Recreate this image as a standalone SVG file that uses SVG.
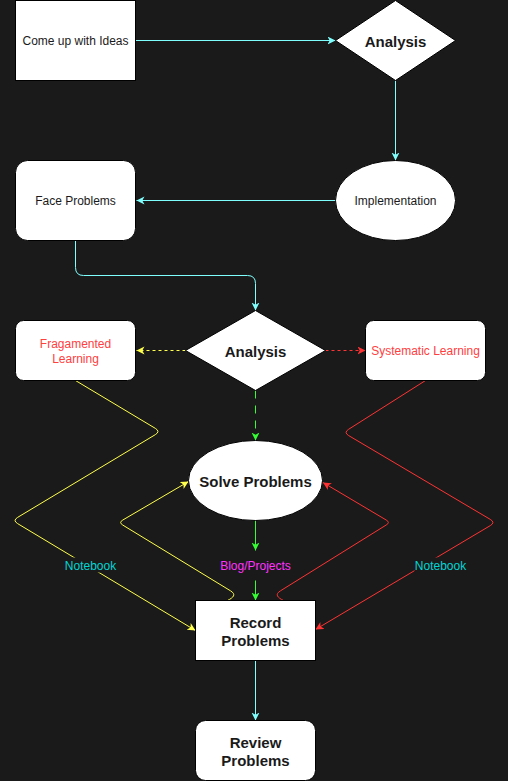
<svg xmlns="http://www.w3.org/2000/svg" width="508" height="781" viewBox="0 0 508 781">
<style>
.node{fill:#ffffff;stroke:#000000;stroke-width:1}
.t{font-family:"Liberation Sans",Arial,sans-serif;font-size:12px;fill:#1a1a1a;text-anchor:middle}
.b{font-family:"Liberation Sans",Arial,sans-serif;font-size:15px;font-weight:bold;fill:#1a1a1a;text-anchor:middle}
.red{fill:#ff4040}
.edge{fill:none;stroke-width:1}
.cy{stroke:#80ffff}
.ye{stroke:#ffff4d}
.rd{stroke:#ff3333}
.gr{stroke:#33ff33}
.lbl{font-family:"Liberation Sans",Arial,sans-serif;font-size:12px;text-anchor:middle}
</style>
<defs>
<marker id="aC" markerUnits="userSpaceOnUse" markerWidth="10" markerHeight="10" refX="8" refY="4" orient="auto"><path d="M0,0 L8,4 L0,8 L2.2,4 Z" fill="#80ffff"/></marker>
<marker id="aY" markerUnits="userSpaceOnUse" markerWidth="10" markerHeight="10" refX="8" refY="4" orient="auto"><path d="M0,0 L8,4 L0,8 L2.2,4 Z" fill="#ffff4d"/></marker>
<marker id="aR" markerUnits="userSpaceOnUse" markerWidth="10" markerHeight="10" refX="8" refY="4" orient="auto"><path d="M0,0 L8,4 L0,8 L2.2,4 Z" fill="#ff3333"/></marker>
<marker id="aG" markerUnits="userSpaceOnUse" markerWidth="10" markerHeight="10" refX="8" refY="4" orient="auto"><path d="M0,0 L8,4 L0,8 L2.2,4 Z" fill="#33ff33"/></marker>
</defs>
<rect x="0" y="0" width="508" height="781" fill="#1a1a1a"/>
<g transform="translate(0.5,0.5)">
<g id="connectors">
<path class="edge cy" d="M135,40 H335" marker-end="url(#aC)"/>
<path class="edge cy" d="M395,80 V160" marker-end="url(#aC)"/>
<path class="edge cy" d="M335,200 H136" marker-end="url(#aC)"/>
<path class="edge cy" d="M75,240 V267 Q75,275 83,275 H247 Q255,275 255,283 V310" marker-end="url(#aC)"/>
<path class="edge ye" d="M185,350 H136" stroke-dasharray="3 3" marker-end="url(#aY)"/>
<path class="edge rd" d="M325,350 H365" stroke-dasharray="3 3" marker-end="url(#aR)"/>
<path class="edge gr" d="M255,390 V440" stroke-dasharray="8 7" marker-end="url(#aG)"/>
<path class="edge gr" d="M255,520 V550" marker-end="url(#aG)"/>
<path class="edge gr" d="M255,580 V600" marker-end="url(#aG)"/>
<path class="edge ye" d="M75,380 L154.9,427.9 Q160,431 154.9,434.1 L17.1,516.9 Q12,520 17.1,523.1 L195,630" marker-end="url(#aY)"/>
<path class="edge ye" d="M227,600 C233,597 236,594 230,590.3 L122.3,524.6 Q118,522 122.3,519.5 L188,481" marker-end="url(#aY)"/>
<path class="edge rd" d="M425,380 L348.1,428.8 Q343,432 348.2,435.1 L489.8,518.9 Q495,522 489.8,525.1 L315,629" marker-end="url(#aR)"/>
<path class="edge rd" d="M283,600 C277,597 274,594 280,590.3 L385.7,524.5 Q390,522 385.7,519.5 L322.5,482" marker-end="url(#aR)"/>
<path class="edge cy" d="M255,660 V720" marker-end="url(#aC)"/>
<rect x="64" y="557" width="52" height="15" fill="#1a1a1a"/>
<text class="lbl" x="90" y="569" fill="#00d5d5">Notebook</text>
<rect x="414" y="557" width="52" height="15" fill="#1a1a1a"/>
<text class="lbl" x="440" y="569" fill="#00d5d5">Notebook</text>
</g>

<g id="n-ideas"><rect class="node" x="15" y="0" width="120" height="80"/><text class="t" x="75" y="44">Come up with Ideas</text></g>
<g id="n-analysis1"><path class="node" d="M395,0 L455,40 L395,80 L335,40 Z"/><text class="b" x="395" y="46">Analysis</text></g>
<g id="n-impl"><ellipse class="node" cx="395" cy="200" rx="60" ry="40"/><text class="t" x="395" y="204">Implementation</text></g>
<g id="n-face"><rect class="node" x="15" y="160" width="120" height="80" rx="12"/><text class="t" x="75" y="204">Face Problems</text></g>
<g id="n-analysis2"><path class="node" d="M255,310 L325,350 L255,390 L185,350 Z"/><text class="b" x="255" y="356">Analysis</text></g>
<g id="n-frag"><rect class="node" x="15" y="320" width="120" height="60" rx="8"/><text class="t red" x="75" y="347">Fragamented</text><text class="t red" x="75" y="362">Learning</text></g>
<g id="n-sys"><rect class="node" x="365" y="320" width="120" height="60" rx="8"/><text class="t red" x="425" y="354">Systematic Learning</text></g>
<g id="n-solve"><ellipse class="node" cx="255" cy="480" rx="67" ry="40"/><text class="b" x="255" y="486">Solve Problems</text></g>
<g id="n-blog"><text class="lbl" x="255" y="569" fill="#ff33ff">Blog/Projects</text></g>
<g id="n-record"><rect class="node" x="195" y="600" width="120" height="60"/><text class="b" x="255" y="627">Record</text><text class="b" x="255" y="645">Problems</text></g>
<g id="n-review"><rect class="node" x="195" y="720" width="120" height="60" rx="10"/><text class="b" x="255" y="747">Review</text><text class="b" x="255" y="765">Problems</text></g>
</g>
</svg>
